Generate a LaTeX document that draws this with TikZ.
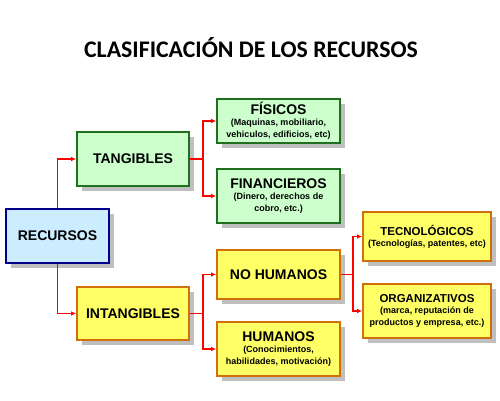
\documentclass[tikz,border=0pt]{standalone}
\usepackage{fontspec}
\setmainfont{Liberation Sans}
\newfontfamily\titlefont{Carlito}
\usetikzlibrary{arrows.meta,shadows}
\definecolor{gfill}{HTML}{CCFFCC}
\definecolor{gdraw}{HTML}{1F6F1F}
\definecolor{bfill}{HTML}{CCECFF}
\definecolor{bdraw}{HTML}{00008B}
\definecolor{yfill}{HTML}{FFFF66}
\definecolor{ydraw}{HTML}{D0700A}
\definecolor{shade}{HTML}{BFBFBF}
\newcommand{\hd}[1]{{\fontsize{14}{16}\selectfont\bfseries #1}}
\newcommand{\hdsm}[1]{{\fontsize{11.5}{13}\selectfont\bfseries #1}}
\newcommand{\sub}{\fontsize{9}{11}\selectfont\bfseries}
\tikzset{
  box/.style={rectangle, line width=1.6pt, inner sep=0pt, align=center,
    drop shadow={shadow xshift=5pt, shadow yshift=-5pt, fill=shade, opacity=1}},
  gbox/.style={box, fill=gfill, draw=gdraw},
  bbox/.style={box, fill=bfill, draw=bdraw},
  ybox/.style={box, fill=yfill, draw=ydraw},
  conn/.style={draw=red, line width=1.6pt, -{Latex[length=5pt,width=4.5pt]}},
  conn0/.style={draw=red, line width=1.6pt}
}
\begin{document}
\begin{tikzpicture}[x=1pt,y=-1pt]
\useasboundingbox (0,0) rectangle (500,400);
\node[font=\titlefont\bfseries\fontsize{23.8}{26}\selectfont, anchor=base] (title) at (251,57) {CLASIFICACIÓN DE LOS RECURSOS};

\node[bbox, minimum width=103pt, minimum height=54pt] (rec) at (57.5,236) {\hd{RECURSOS}};
\node[gbox, minimum width=112pt, minimum height=54pt] (tan) at (133,159) {\hd{TANGIBLES}};
\node[ybox, minimum width=112pt, minimum height=53pt] (int) at (133,313.5) {\hd{INTANGIBLES}};

\node[gbox, minimum width=123pt, minimum height=44pt] (fis) at (278.5,121) {\hd{FÍSICOS}\\[-1pt]{\sub (Maquinas, mobiliario,}\\{\sub vehiculos, edificios, etc)}};
\node[gbox, minimum width=123pt, minimum height=54pt] (fin) at (278.5,196) {\hd{FINANCIEROS}\\[-1pt]{\sub (Dinero, derechos de}\\{\sub cobro, etc.)}};
\node[ybox, minimum width=123pt, minimum height=49pt] (noh) at (278.5,274.5) {\hd{NO HUMANOS}};
\node[ybox, minimum width=123pt, minimum height=54pt] (hum) at (278.5,349) {\hd{HUMANOS}\\[-1pt]{\sub (Conocimientos,}\\{\sub habilidades, motivación)}};
\node[ybox, minimum width=128pt, minimum height=49pt] (tec) at (427,236.5) {\hdsm{TECNOLÓGICOS}\\[-1pt]{\sub (Tecnologías, patentes, etc)}};
\node[ybox, minimum width=128pt, minimum height=54pt] (org) at (427,311) {\hdsm{ORGANIZATIVOS}\\[-1pt]{\sub (marca, reputación de}\\{\sub productos y empresa, etc.)}};

\draw[conn] (rec.north) |- (tan.west);
\draw[conn] (rec.south) |- (int.west);

\coordinate (j1) at ([xshift=13pt]tan.east);
\draw[conn0] (tan.east) -- (j1);
\draw[conn] (j1) |- (fis.west);
\draw[conn] (j1) |- (fin.west);

\coordinate (j2) at ([xshift=13pt]int.east);
\draw[conn0] (int.east) -- (j2);
\draw[conn] (j2) |- (noh.west);
\draw[conn] (j2) |- (hum.west);

\coordinate (j3) at ([xshift=12pt]noh.east);
\draw[conn0] (noh.east) -- (j3);
\draw[conn] (j3) |- (tec.west);
\draw[conn] (j3) |- (org.west);
\end{tikzpicture}
\end{document}
